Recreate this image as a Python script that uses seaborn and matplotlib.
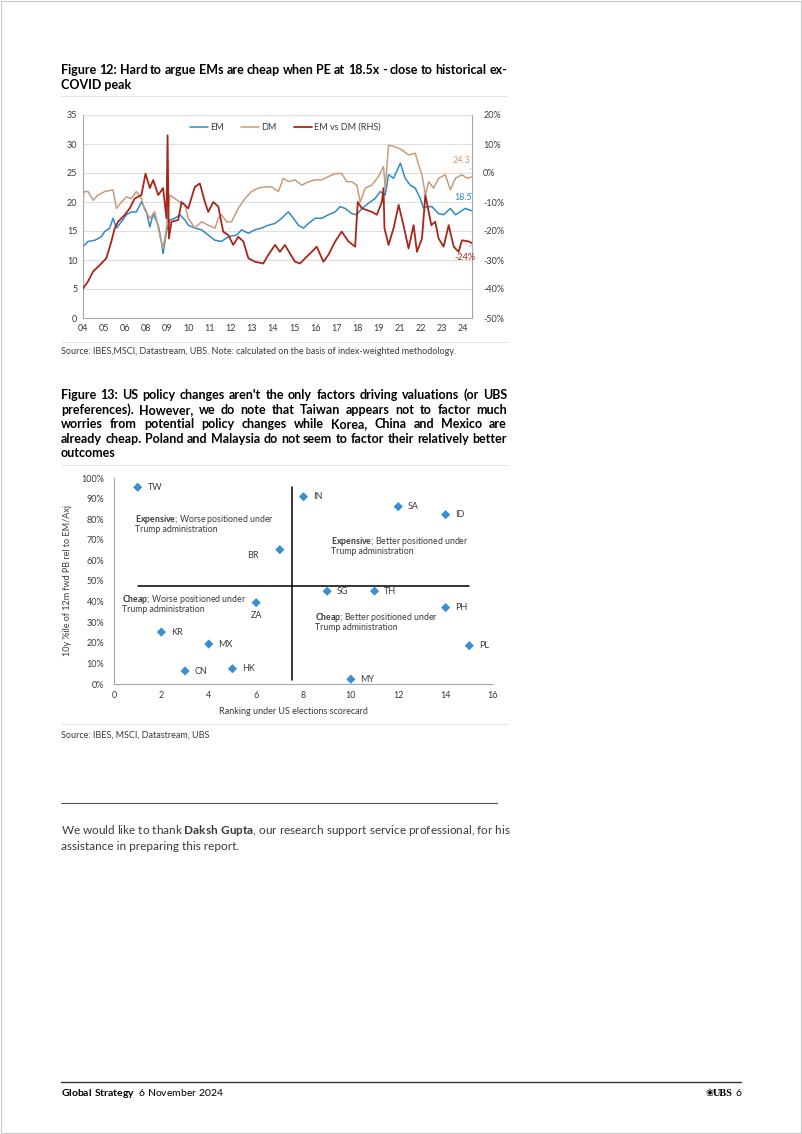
import matplotlib
matplotlib.use("Agg")
import numpy as np
import pandas as pd
import seaborn as sns
import matplotlib.pyplot as plt
from matplotlib.lines import Line2D
from matplotlib.patches import Rectangle

sns.set_style("white")
plt.rcParams['font.family'] = ['Lato', 'DejaVu Sans']
plt.rcParams['mathtext.fontset'] = 'custom'
plt.rcParams['mathtext.rm'] = 'Lato'
plt.rcParams['mathtext.bf'] = 'Lato:bold'

# ---- Figure 12 data ----
em_year = [2004.0, 2004.27, 2004.63, 2004.98, 2005.16, 2005.43, 2005.61, 2005.79, 2006.06, 2006.33,
           2006.59, 2006.86, 2007.13, 2007.4, 2007.58, 2007.76, 2008.03, 2008.2, 2008.29, 2008.47,
           2008.65, 2008.92, 2009.19, 2009.46, 2009.64, 2009.99, 2010.35, 2010.71, 2011.07, 2011.42,
           2011.78, 2012.23, 2012.5, 2012.86, 2013.21, 2013.57, 2013.93, 2014.29, 2014.64, 2015.0,
           2015.27, 2015.54, 2015.81, 2016.08, 2016.43, 2016.79, 2017.15, 2017.51, 2017.77, 2018.04,
           2018.4, 2018.67, 2018.94, 2019.3, 2019.65, 2019.92, 2020.19, 2020.37, 2020.64, 2021.0,
           2021.26, 2021.53, 2021.8, 2022.07, 2022.25, 2022.43, 2022.69, 2023.05, 2023.32, 2023.68,
           2023.95, 2024.21, 2024.48, 2024.81]
em_pe = [12.3, 13.2, 13.4, 14.0, 14.9, 15.5, 17.2, 15.5, 16.6, 17.8,
         18.3, 18.3, 20.0, 18.3, 15.7, 18.0, 16.0, 13.2, 11.1, 14.9,
         16.9, 17.2, 17.8, 16.9, 16.0, 15.5, 15.2, 14.3, 13.4, 13.2,
         14.0, 14.3, 15.2, 14.6, 15.2, 15.5, 16.0, 16.3, 17.2, 18.3,
         17.2, 16.0, 15.5, 16.3, 17.2, 17.2, 17.8, 18.3, 19.2, 18.9,
         18.0, 17.8, 18.9, 19.8, 20.6, 21.8, 21.2, 24.7, 24.1, 26.7,
         24.1, 22.9, 22.4, 20.6, 18.9, 19.2, 19.2, 18.0, 17.8, 18.9,
         17.8, 18.3, 18.9, 18.5]

dm_year = [2004.0, 2004.05, 2004.27, 2004.54, 2004.81, 2005.16, 2005.61, 2005.79, 2006.06, 2006.33,
           2006.59, 2006.86, 2007.13, 2007.31, 2007.58, 2007.85, 2008.11, 2008.29, 2008.47, 2008.65,
           2008.92, 2009.19, 2009.46, 2009.64, 2009.99, 2010.35, 2010.71, 2011.07, 2011.25, 2011.42,
           2011.69, 2011.96, 2012.32, 2012.68, 2013.03, 2013.39, 2013.75, 2014.11, 2014.47, 2014.73,
           2015.0, 2015.36, 2015.72, 2016.08, 2016.43, 2016.79, 2017.15, 2017.51, 2017.86, 2018.13,
           2018.4, 2018.67, 2018.85, 2019.12, 2019.47, 2019.83, 2020.1, 2020.19, 2020.37, 2020.73,
           2021.08, 2021.44, 2021.8, 2021.98, 2022.16, 2022.34, 2022.52, 2022.78, 2023.05, 2023.41,
           2023.68, 2023.95, 2024.3, 2024.57, 2024.81]
dm_pe = [20.0, 21.8, 21.8, 20.3, 21.2, 21.8, 22.1, 18.9, 20.0, 20.9,
         20.6, 21.8, 20.6, 18.6, 17.2, 18.3, 14.3, 12.0, 15.5, 21.2,
         20.6, 20.0, 19.5, 17.2, 15.5, 16.6, 16.0, 15.5, 17.2, 17.8,
         16.6, 16.6, 18.9, 20.6, 21.8, 22.4, 22.6, 22.6, 21.8, 24.1,
         23.5, 23.8, 22.9, 23.5, 23.8, 23.8, 24.4, 24.9, 24.9, 23.5,
         23.5, 22.9, 20.0, 22.4, 22.9, 24.4, 26.1, 22.4, 29.8, 29.5,
         29.0, 28.1, 28.4, 26.4, 24.7, 21.2, 23.5, 22.4, 24.1, 24.7,
         22.1, 24.1, 24.7, 24.1, 24.3]

rel_year = [2004.0, 2004.27, 2004.54, 2004.89, 2005.25, 2005.52, 2005.7, 2005.88, 2006.24, 2006.5,
            2006.77, 2007.13, 2007.35, 2007.58, 2007.76, 2008.03, 2008.29, 2008.47, 2008.53, 2008.6,
            2008.74, 2009.1, 2009.28, 2009.64, 2009.99, 2010.26, 2010.53, 2010.71, 2010.98, 2011.25,
            2011.51, 2011.78, 2012.05, 2012.32, 2012.59, 2012.86, 2013.21, 2013.66, 2013.93, 2014.29,
            2014.55, 2014.82, 2015.09, 2015.36, 2015.63, 2015.9, 2016.25, 2016.52, 2016.88, 2017.15,
            2017.51, 2017.86, 2018.22, 2018.58, 2018.72, 2018.94, 2019.21, 2019.47, 2019.74, 2020.01,
            2020.1, 2020.15, 2020.37, 2020.64, 2020.91, 2021.17, 2021.44, 2021.71, 2021.89, 2022.16,
            2022.34, 2022.52, 2022.66, 2022.87, 2023.05, 2023.32, 2023.59, 2023.86, 2024.12, 2024.3,
            2024.66, 2024.84]
rel_pct = [-39.8, -37.4, -34.0, -31.8, -29.4, -23.6, -19.0, -16.8, -14.4, -12.2,
           -8.8, -7.6, -0.2, -5.2, -2.4, -7.6, -5.2, -15.6, 13.0, -22.6,
           -16.8, -16.2, -10.0, -12.2, -4.8, -3.6, -10.0, -13.4, -10.0, -11.6,
           -20.2, -21.4, -24.8, -22.0, -23.6, -29.4, -30.6, -31.2, -28.2, -24.8,
           -27.2, -24.8, -27.8, -30.6, -31.2, -29.4, -27.2, -25.4, -30.6, -28.2,
           -23.6, -20.2, -23.6, -25.4, -10.0, -12.2, -12.8, -13.4, -14.4, -10.0,
           -5.2, -19.0, -24.8, -19.0, -11.0, -18.0, -26.0, -18.0, -27.2, -22.6,
           -7.6, -13.4, -18.0, -16.8, -22.6, -25.4, -18.0, -25.4, -27.2, -23.2,
           -23.6, -24.2]

year_labels = ['04', '05', '06', '08', '09', '10', '11', '12', '13', '14',
               '15', '16', '17', '18', '19', '21', '22', '23', '24']

# ---- Figure 13 data ----
countries = ['TW', 'IN', 'SA', 'ID', 'BR', 'SG', 'TH', 'ZA', 'PH', 'KR', 'MX', 'PL', 'HK', 'CN', 'MY']
ranking = [1, 8, 12, 14, 7, 9, 11, 6, 14, 2, 4, 15, 5, 3, 10]
pctile = [95.5, 90.9, 86.1, 82.2, 65.2, 45.0, 45.1, 39.5, 37.1, 25.2, 19.4, 18.6, 7.4, 6.3, 2.3]

W, H = 802, 1134
C_EM, C_DM, C_REL = '#2f8ac6', '#c79c7a', '#a8261c'
C_TXT = '#3a3a3a'


def fx(x):
    return x / W


def fy(y):
    return 1 - y / H


fig = plt.figure(figsize=(W / 100, H / 100), dpi=100)
fig.patch.set_facecolor('white')
fig.add_artist(Rectangle((0.001, 0.001), 0.998, 0.998, transform=fig.transFigure,
                         fill=False, edgecolor='#c8c8c8', lw=0.8))
renderer = fig.canvas.get_renderer()


def hline(x0, x1, y, color='#e3e3e3', lw=0.8):
    fig.add_artist(Line2D([fx(x0), fx(x1)], [fy(y), fy(y)], transform=fig.transFigure, color=color, lw=lw))


def width_of(s, **kw):
    t = fig.text(0, 0, s, **kw)
    w = t.get_window_extent(renderer).width
    t.remove()
    return w


def justified(lines, x0, x1, y0, dy, **kw):
    for i, line in enumerate(lines):
        y = y0 + i * dy
        if i == len(lines) - 1:
            fig.text(fx(x0), fy(y), line, va='center', ha='left', **kw)
            continue
        words = line.split()
        widths = [width_of(w, **kw) for w in words]
        gap = (x1 - x0 - sum(widths)) / (len(words) - 1)
        pos = x0
        for w, wd in zip(words, widths):
            fig.text(fx(pos), fy(y), w, va='center', ha='left', **kw)
            pos += wd + gap


# ---------------- Figure 12 ----------------
justified(["Figure 12: Hard to argue EMs are cheap when PE at 18.5x - close to historical ex-",
           "COVID peak"], 61, 507, 70, 15, fontsize=9, fontweight='bold', color='black')
hline(61, 507, 96)

ax1 = fig.add_axes([fx(83), fy(318), (472 - 83) / W, (318 - 115) / H])
sns.lineplot(x=em_year, y=em_pe, ax=ax1, color=C_EM, lw=1.1, label='EM')
sns.lineplot(x=dm_year, y=dm_pe, ax=ax1, color=C_DM, lw=1.1, label='DM')
ax1.set_ylim(0, 35)
ax1.set_yticks(range(0, 36, 5))
ax1.set_xlim(2004, 2024.84)
ax1.set_xticks([2004 + i * 1.1306 for i in range(len(year_labels))])
ax1.set_xticklabels(year_labels)
ax1.grid(axis='y', color='#dedede', lw=0.8)
ax1.tick_params(labelsize=6.5, colors=C_TXT, length=0, pad=4)
ax1.set_xlabel('')
ax1.set_ylabel('')
for s in ['left', 'bottom', 'right']:
    ax1.spines[s].set_color('#a6a6a6')
    ax1.spines[s].set_linewidth(0.8)
ax1.spines['top'].set_visible(False)

ax1r = ax1.twinx()
sns.lineplot(x=rel_year, y=rel_pct, ax=ax1r, color=C_REL, lw=1.3, label='EM vs DM (RHS)')
ax1r.set_ylim(-50, 20)
ax1r.set_yticks(range(-50, 21, 10))
ax1r.set_yticklabels([f'{v}%' for v in range(-50, 21, 10)])
ax1r.tick_params(labelsize=6.5, colors=C_TXT, length=0, pad=8)
ax1r.set_ylabel('')
for s in ax1r.spines.values():
    s.set_visible(False)

h1, l1 = ax1.get_legend_handles_labels()
h2, l2 = ax1r.get_legend_handles_labels()
ax1.get_legend().remove()
ax1r.get_legend().remove()
leg = ax1r.legend(h1 + h2, l1 + l2, ncol=3, loc='center', bbox_to_anchor=(0.52, 0.94),
                  frameon=False, fontsize=6.5, handlelength=2.0, handletextpad=0.25, columnspacing=1.9)
for t in leg.get_texts():
    t.set_color(C_TXT)

# end-value labels (right-hand scale: left value v <-> 2v - 50 %)
ax1r.annotate(f'{dm_pe[-1]:.1f}', xy=(2024.78, 1.2), xytext=(2024.3, 4.2), color=C_DM, fontsize=6.5,
              ha='center', va='center',
              arrowprops=dict(arrowstyle='-', color='#999999', lw=0.5, shrinkA=2, shrinkB=0))
ax1r.text(2024.35, -8.6, f'{em_pe[-1]:.1f}', color=C_EM, fontsize=6.5, ha='center', va='center')
ax1r.annotate(f'{rel_pct[-1]:.0f}%', xy=(2024.8, -24.8), xytext=(2024.45, -29.0), color=C_REL,
              fontsize=6.5, ha='center', va='center',
              arrowprops=dict(arrowstyle='-', color='#999999', lw=0.5, shrinkA=2, shrinkB=0))

hline(61, 507, 342)
fig.text(fx(61), fy(352), 'Source: IBES,MSCI, Datastream, UBS. Note: calculated on the basis of index-weighted methodology.',
         fontsize=6.5, color=C_TXT, va='center')

# ---------------- Figure 13 ----------------
justified(["Figure 13: US policy changes aren't the only factors driving valuations (or UBS",
           "preferences). However, we do note that Taiwan appears not to factor much",
           "worries from potential policy changes while Korea, China and Mexico are",
           "already cheap. Poland and Malaysia do not seem to factor their relatively better",
           "outcomes"], 61, 507, 395, 14.6, fontsize=9, fontweight='bold', color='black')
hline(61, 507, 465)

ax2 = fig.add_axes([fx(114), fy(684), (493 - 114) / W, (684 - 478) / H])
df13 = pd.DataFrame({'country': countries, 'ranking': ranking, 'pctile': pctile})
sns.scatterplot(data=df13, x='ranking', y='pctile', ax=ax2, marker='D', s=22,
                color='#3a8fd0', edgecolor='none', zorder=3)
ax2.plot([7.5, 7.5], [2, 95.5], color='black', lw=1.1)
ax2.plot([1, 15], [47.7, 47.7], color='black', lw=1.1)
offsets = {'BR': (-15, -4, 'right'), 'ZA': (0, -9, 'center')}
for c, x, y in zip(countries, ranking, pctile):
    dx, dy, ha = offsets.get(c, (7, 0, 'left'))
    ax2.annotate(c, (x, y), xytext=(dx, dy), textcoords='offset points', ha=ha, va='center',
                 fontsize=6.5, color=C_TXT)
ax2.set_xlim(0, 16)
ax2.set_ylim(0, 100)
ax2.set_xticks(range(0, 17, 2))
ax2.set_yticks(range(0, 101, 10))
ax2.set_yticklabels([f'{v}%' for v in range(0, 101, 10)])
ax2.tick_params(labelsize=6.5, colors=C_TXT, length=0)
ax2.tick_params(axis='y', pad=7)
ax2.tick_params(axis='x', pad=5)
ax2.set_xlabel('Ranking under US elections scorecard', fontsize=6.5, color=C_TXT)
ax2.set_ylabel('10y %ile of 12m fwd PB rel to EM/Axj', fontsize=6.5, color=C_TXT)
ax2.xaxis.set_label_coords((293 - 114) / 379, (684 - 707) / 206)
ax2.yaxis.set_label_coords((72 - 114) / 379, 0.5)
for s in ['top', 'right']:
    ax2.spines[s].set_visible(False)
for s in ['left', 'bottom']:
    ax2.spines[s].set_color('#a6a6a6')
    ax2.spines[s].set_linewidth(0.8)

for (x, y1, head, rest) in [(135, 520, 'Expensive', '; Worse positioned under'),
                            (331, 541, 'Expensive', '; Better positioned under'),
                            (122, 599, 'Cheap', '; Worse positioned under'),
                            (315, 617, 'Cheap', '; Better positioned under')]:
    fig.text(fx(x), fy(y1), r'$\bf{' + head + '}$' + rest, fontsize=6.3, color=C_TXT, va='center')
    fig.text(fx(x), fy(y1 + 10), 'Trump administration', fontsize=6.3, color=C_TXT, va='center')

hline(61, 507, 724)
fig.text(fx(61), fy(735), 'Source: IBES, MSCI, Datastream, UBS', fontsize=6.5, color=C_TXT, va='center')

# ---------------- Text and footer ----------------
hline(61, 497, 803, color='#555555', lw=0.8)
fig.text(fx(61), fy(831), r'We would like to thank $\bf{Daksh\ Gupta}$, our research support service professional, for his',
         fontsize=8.45, color=C_TXT, va='center')
fig.text(fx(61), fy(847), 'assistance in preparing this report.', fontsize=8.45, color=C_TXT, va='center')

hline(61, 741, 1082, color='#333333', lw=1.0)
fig.text(fx(61), fy(1093), r'$\bf{Global\ Strategy}$  6 November 2024', fontsize=7.5, color='black', va='center')
fig.text(fx(733), fy(1093), 'UBS', fontsize=7.5, fontweight='bold', family='Liberation Serif',
         ha='right', va='center', color='black')
fig.text(fx(714), fy(1093), '\u2740', fontsize=7, ha='right', va='center', color='black',
         family=['DejaVu Sans'])
fig.text(fx(741), fy(1093), '6', fontsize=7.5, ha='right', va='center', color='black')

fig.savefig('out.png', dpi=100)
